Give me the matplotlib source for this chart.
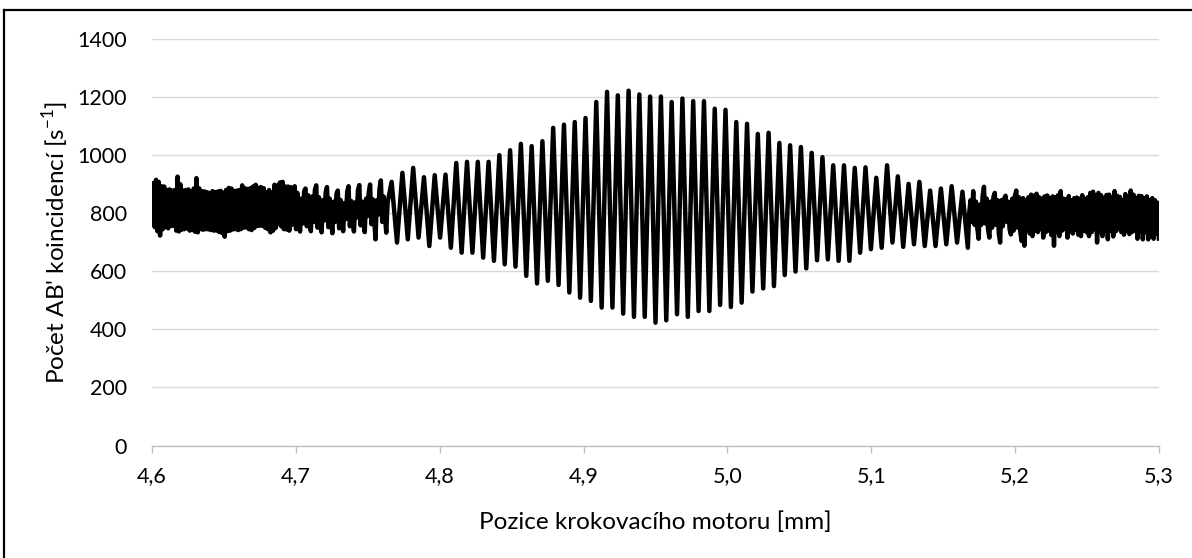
import numpy as np
import matplotlib
matplotlib.use("Agg")
import matplotlib.pyplot as plt
from matplotlib.lines import Line2D

# ---------------- data ----------------
x_min, x_max = 4.6, 5.3          # motor position range [mm]
n_samples = 749                  # uniform sampling grid along the scan (8 samples per fringe)

# noisy band at the start of the scan (samples 0..175), one row per fringe
noise_left = [790, 904, 752, 915, 738, 908, 723, 893,
              745, 892, 752, 880, 748, 882, 756, 878,
              757, 880, 740, 926, 737, 900, 743, 878,
              745, 880, 748, 882, 740, 875, 742, 885,
              736, 921, 734, 886, 745, 876, 743, 875,
              745, 872, 744, 870, 742, 876, 740, 873,
              740, 875, 735, 877, 732, 870, 719, 880,
              738, 887, 740, 885, 744, 876, 745, 878,
              742, 880, 745, 896, 750, 886, 751, 884,
              745, 886, 742, 892, 749, 898, 756, 888,
              757, 890, 757, 886, 750, 872, 745, 880,
              734, 870, 740, 898, 750, 895, 763, 906,
              755, 908, 745, 892, 744, 892, 740, 890,
              760, 880, 893, 745, 870, 760, 737, 850,
              765, 875, 885, 755, 862, 770, 738, 858,
              770, 880, 896, 750, 855, 765, 734, 845,
              775, 872, 890, 752, 850, 770, 731, 840,
              770, 866, 878, 748, 846, 772, 738, 835,
              780, 875, 893, 755, 842, 776, 737, 838,
              785, 880, 897, 758, 840, 780, 735, 850,
              790, 872, 899, 762, 848, 785, 710, 845,
              795, 884, 913, 770, 858, 792, 733, 836]

# interference fringes: maxima and minima of fringes no. 22..75
fringe_first = 22
fringe_max = [908, 939, 956, 924, 931, 933, 973, 977,
              977, 977, 1000, 1017, 1039, 1031, 1048, 1094, 1105, 1114,
              1128, 1183, 1218, 1206, 1222, 1209, 1202, 1202, 1183, 1195,
              1186, 1186, 1160, 1156, 1114, 1108, 1073, 1077, 1042, 1034,
              1028, 1008, 993, 965, 965, 956, 958, 922, 965, 927,
              901, 908, 878, 885, 893, 874]
fringe_min = [699, 710, 716, 687, 716, 681, 664, 664,
              647, 636, 624, 616, 584, 558, 567, 553, 527, 509,
              498, 475, 475, 454, 443, 443, 423, 431, 452, 443,
              463, 463, 484, 477, 492, 530, 541, 549, 587, 599,
              610, 638, 641, 636, 636, 664, 676, 681, 699, 684,
              693, 687, 687, 693, 699, 681]

# noisy band at the end of the scan (last 142 samples)
noise_right = [800, 845, 770, 876, 760, 840, 750, 712,
               830, 760, 860, 891, 765, 850, 745, 716,
               840, 750, 855, 870, 760, 845, 730, 699,
               845, 755, 850, 860, 770, 840, 745, 727,
               850, 740, 860, 878, 750, 855, 735, 704,
               852, 688, 845, 745, 855, 730, 864, 721,
               860, 740, 867, 735, 855, 745, 850, 716,
               858, 735, 861, 740, 850, 725, 858, 688,
               855, 735, 862, 721, 876, 740, 850, 745,
               848, 716, 859, 738, 845, 730, 852, 742,
               854, 726, 850, 721, 862, 740, 848, 735,
               855, 721, 870, 735, 874, 745, 862, 699,
               870, 735, 862, 721, 852, 740, 863, 710,
               864, 740, 850, 720, 876, 738, 860, 745,
               856, 735, 845, 726, 866, 740, 850, 728,
               878, 735, 864, 740, 852, 712, 860, 738,
               859, 710, 850, 735, 858, 710, 845, 725,
               852, 712, 845, 730, 836, 705]

x_ticks = [4.6, 4.7, 4.8, 4.9, 5.0, 5.1, 5.2, 5.3]
x_ticklabels = ["4,6", "4,7", "4,8", "4,9", "5,0", "5,1", "5,2", "5,3"]
y_ticks = [0, 200, 400, 600, 800, 1000, 1200, 1400]
x_label = "Pozice krokovacího motoru [mm]"
y_label = r"Počet AB' koincidencí [s$^{\mathregular{-1}}$]"

# ---------------- assemble the series ----------------
grid = np.linspace(x_min, x_max, n_samples)
k_left = np.arange(len(noise_left))
m = np.arange(fringe_first, fringe_first + len(fringe_max))
k_max = 8 * m + 2
k_min = 8 * m + 6
k_right = np.arange(n_samples - len(noise_right), n_samples)
k_all = np.concatenate([k_left, k_max, k_min, k_right])
v_all = np.concatenate([noise_left, fringe_max, fringe_min, noise_right]).astype(float)
order = np.argsort(k_all, kind="stable")
xs = grid[k_all[order]]
ys = v_all[order]

# ---------------- figure ----------------
plt.rcParams["font.family"] = ["Lato", "DejaVu Sans"]
plt.rcParams["mathtext.fontset"] = "custom"
plt.rcParams["mathtext.rm"] = "Lato"

FS_LABEL = 17.5
FS_TICK = 15.5
W, H = 1192, 558
fig = plt.figure(figsize=(W / 100, H / 100), dpi=100)
ax = fig.add_axes([152 / W, 1 - 445.5 / H, (1159 - 152) / W, (445.5 - 39) / H])

ax.plot(xs, ys, color="black", lw=3.2, solid_joinstyle="round",
        solid_capstyle="butt", zorder=3)

ax.set_xlim(x_min, x_max)
ax.set_ylim(0, 1400)
ax.set_xticks(x_ticks)
ax.set_xticklabels(x_ticklabels)
ax.set_yticks(y_ticks)
ax.grid(axis="y", color="#d9d9d9", lw=1.0)
ax.set_axisbelow(True)
for s in ["top", "right", "left"]:
    ax.spines[s].set_visible(False)
ax.spines["bottom"].set_color("#bfbfbf")
ax.spines["bottom"].set_linewidth(1.0)
ax.tick_params(axis="x", direction="out", length=5, width=1, color="#bfbfbf",
               labelsize=FS_TICK, pad=10, labelcolor="black")
ax.tick_params(axis="y", length=0, labelsize=FS_TICK, pad=18, labelcolor="black")

ax.set_xlabel(x_label, fontsize=FS_LABEL, labelpad=18)
ax.set_ylabel(y_label, fontsize=FS_LABEL)
ax.yaxis.set_label_coords((71 - 152) / 1007, 0.5)

# outer chart border
fig.add_artist(Line2D([3.5 / W, 1.0], [1 - 9.5 / H, 1 - 9.5 / H],
                      transform=fig.transFigure, color="black", lw=1.6))
fig.add_artist(Line2D([3.5 / W, 3.5 / W], [0, 1 - 9.5 / H],
                      transform=fig.transFigure, color="black", lw=1.6))

fig.savefig("out.png", dpi=100)
